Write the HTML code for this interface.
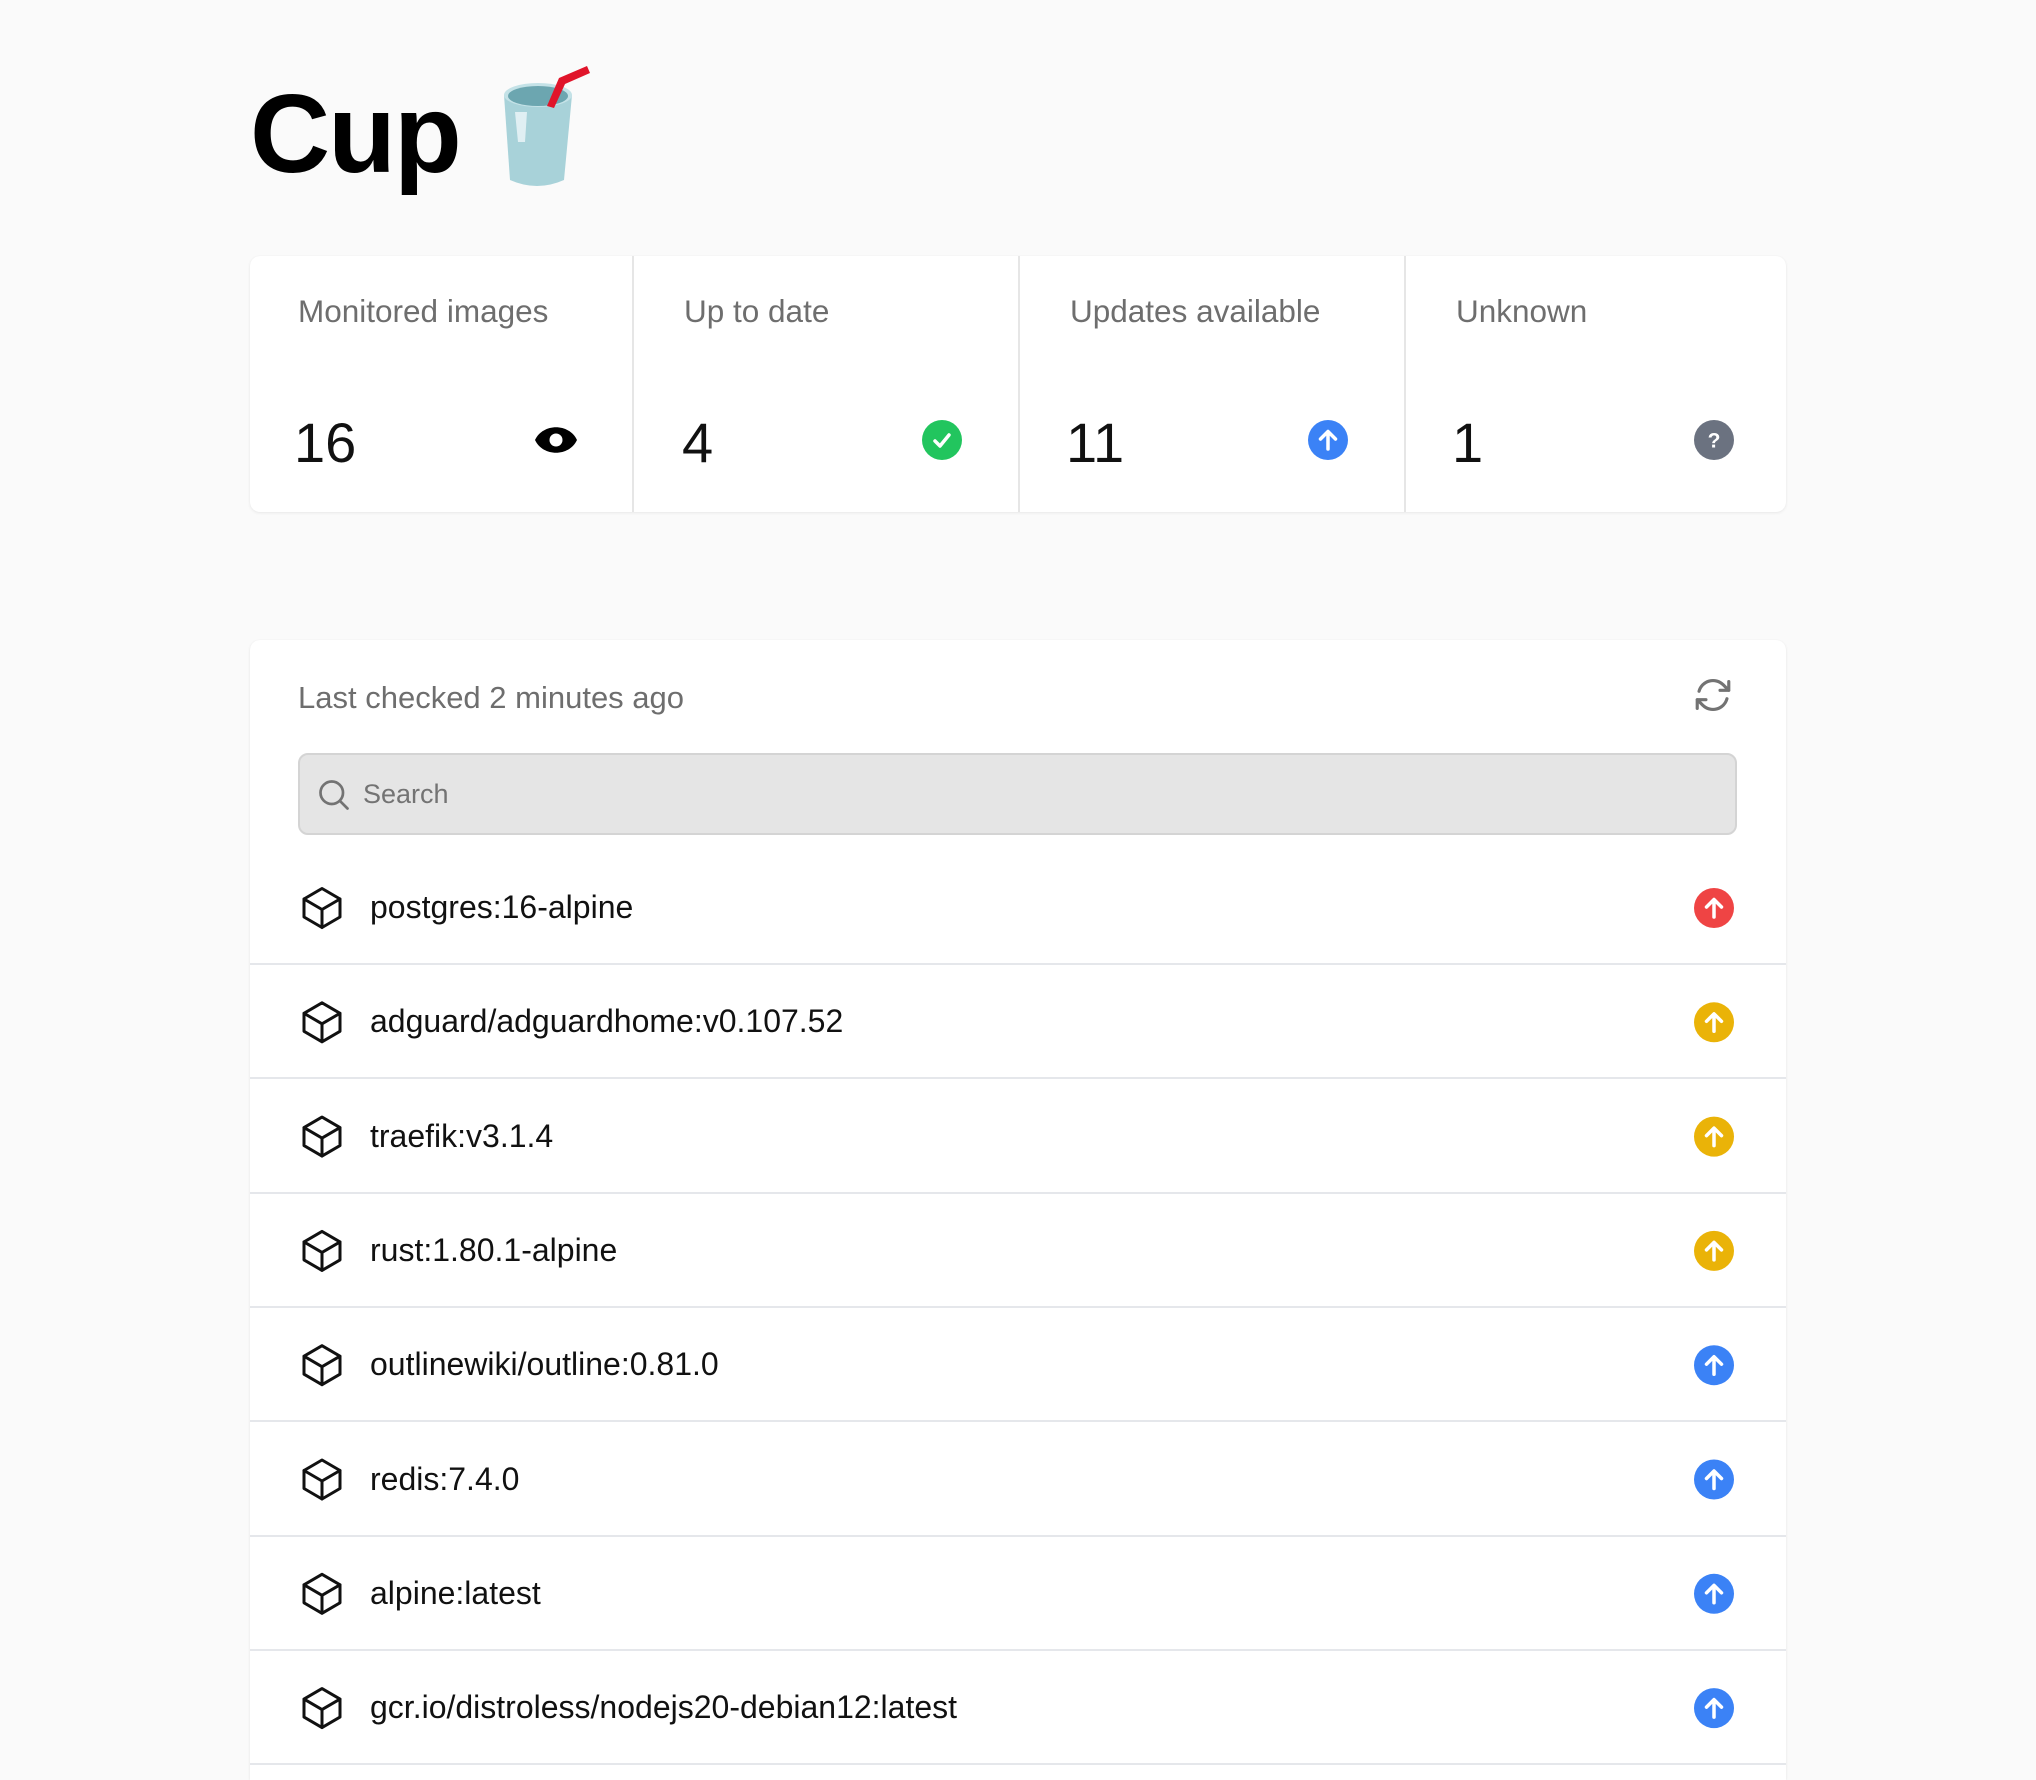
<!DOCTYPE html>
<html style="overflow:hidden;">
<head>
<meta charset="utf-8">
<style>
  html, body { margin:0; padding:0; width:2036px; height:1780px; overflow:hidden; }
  body { background:#fafafa; position:relative; font-family:"Liberation Sans", "DejaVu Sans", sans-serif; }
  .abs { position:absolute; line-height:1; white-space:nowrap; }
  .card { position:absolute; background:#fff; border-radius:10px; box-shadow:0 1px 3px rgba(0,0,0,0.07), 0 0 1px rgba(0,0,0,0.05); }
  .lbl { font-size:31.5px; color:#6e6e6e; }
  .num { font-size:56px; color:#111; }
  .vdiv { position:absolute; top:256px; width:2px; height:256px; background:#e6e6e6; }
  .sep { position:absolute; left:250px; width:1536px; height:2px; background:#e5e7eb; }
  .row { font-size:32px; color:#111; left:370px; }
</style>
</head>
<body>

<!-- Title -->
<div class="abs" style="left:250px; top:79px; font-size:111px; font-weight:bold; letter-spacing:-2px; color:#000;">Cup</div>
<svg style="position:absolute; left:495px; top:60px;" width="100" height="135" viewBox="495 60 100 135">
  <path d="M504,95 L510,180 Q537,192 564,180 L572,95 Z" fill="#a8d2d9"/>
  <ellipse cx="538" cy="95" rx="34" ry="12" fill="#c4e2e7"/>
  <ellipse cx="538" cy="96" rx="30" ry="10" fill="#6ca6b0"/>
  <path d="M515,112 L527,112 L525,142 L518,142 Z" fill="#e0eff3"/>
  <path d="M547,106 L559,78 L587,66 L590,73 L565,84 L554,108 Z" fill="#e0142a"/>
</svg>

<!-- Stats card -->
<div class="card" style="left:250px; top:256px; width:1536px; height:256px;"></div>
<div class="vdiv" style="left:632px;"></div>
<div class="vdiv" style="left:1018px;"></div>
<div class="vdiv" style="left:1404px;"></div>

<div class="abs lbl" style="left:298px; top:296px;">Monitored images</div>
<div class="abs lbl" style="left:684px; top:296px;">Up to date</div>
<div class="abs lbl" style="left:1070px; top:296px;">Updates available</div>
<div class="abs lbl" style="left:1456px; top:296px;">Unknown</div>

<div class="abs num" style="left:294px; top:415px;">16</div>
<div class="abs num" style="left:682px; top:415px;">4</div>
<div class="abs num" style="left:1066px; top:415px;">11</div>
<div class="abs num" style="left:1452px; top:415px;">1</div>

<!-- eye -->
<svg style="position:absolute; left:534px; top:422px;" width="44" height="36" viewBox="0 0 44 36">
  <path d="M1,18 C9,1 35,1 43,18 C35,35 9,35 1,18 Z" fill="#000"/>
  <circle cx="22" cy="18" r="6.5" fill="#fff"/>
</svg>
<!-- check -->
<svg style="position:absolute; left:922px; top:420px;" width="40" height="40" viewBox="0 0 40 40">
  <circle cx="20" cy="20" r="20" fill="#22c55e"/>
  <polyline points="13,21 18,26 27,15" fill="none" stroke="#fff" stroke-width="3.5" stroke-linecap="round" stroke-linejoin="round"/>
</svg>
<!-- up blue -->
<svg style="position:absolute; left:1308px; top:420px;" width="40" height="40" viewBox="0 0 40 40">
  <circle cx="20" cy="20" r="20" fill="#3b82f6"/>
  <path d="M20,29 L20,12 M12.5,19 L20,11.5 L27.5,19" fill="none" stroke="#fff" stroke-width="3.5" stroke-linecap="round" stroke-linejoin="round"/>
</svg>
<!-- question -->
<svg style="position:absolute; left:1694px; top:420px;" width="40" height="40" viewBox="0 0 40 40">
  <circle cx="20" cy="20" r="20" fill="#6b7280"/>
  <text x="20" y="27.5" text-anchor="middle" font-family="Liberation Sans, sans-serif" font-weight="bold" font-size="21" fill="#fff">?</text>
</svg>

<!-- Images card -->
<div class="card" style="left:250px; top:640px; width:1536px; height:1140px; border-bottom-left-radius:0; border-bottom-right-radius:0;"></div>
<div class="abs" style="left:298px; top:682px; font-size:31px; color:#6e6e6e;">Last checked 2 minutes ago</div>
<svg style="position:absolute; left:1692px; top:674px;" width="42" height="42" viewBox="0 0 24 24">
  <path d="M16.023 9.348h4.992v-.001M2.985 19.644v-4.992m0 0h4.992m-4.993 0 3.181 3.183a8.25 8.25 0 0 0 13.803-3.7M4.031 9.865a8.25 8.25 0 0 1 13.803-3.7l3.181 3.182m0-4.991v4.99" fill="none" stroke="#737373" stroke-width="1.8" stroke-linecap="round" stroke-linejoin="round"/>
</svg>

<!-- Search -->
<div style="position:absolute; left:298px; top:753px; width:1439px; height:82px; box-sizing:border-box; background:#e5e5e5; border:2px solid #d4d4d4; border-radius:10px;"></div>
<svg style="position:absolute; left:316px; top:777px;" width="36" height="36" viewBox="0 0 24 24">
  <path d="m21 21-5.197-5.197m0 0A7.5 7.5 0 1 0 5.196 5.196a7.5 7.5 0 0 0 10.607 10.607Z" fill="none" stroke="#737373" stroke-width="1.8" stroke-linecap="round" stroke-linejoin="round"/>
</svg>
<div class="abs" style="left:363px; top:781px; font-size:27px; color:#737373;">Search</div>

<!-- Rows -->
<div class="abs row" style="top:891px;">postgres:16-alpine</div>
<div class="abs row" style="top:1005.3px;">adguard/adguardhome:v0.107.52</div>
<div class="abs row" style="top:1119.6px;">traefik:v3.1.4</div>
<div class="abs row" style="top:1233.9px;">rust:1.80.1-alpine</div>
<div class="abs row" style="top:1348.2px;">outlinewiki/outline:0.81.0</div>
<div class="abs row" style="top:1462.5px;">redis:7.4.0</div>
<div class="abs row" style="top:1576.8px;">alpine:latest</div>
<div class="abs row" style="top:1691.1px;">gcr.io/distroless/nodejs20-debian12:latest</div>

<div class="sep" style="top:963px;"></div>
<div class="sep" style="top:1077.3px;"></div>
<div class="sep" style="top:1191.6px;"></div>
<div class="sep" style="top:1305.9px;"></div>
<div class="sep" style="top:1420.2px;"></div>
<div class="sep" style="top:1534.5px;"></div>
<div class="sep" style="top:1648.8px;"></div>
<div class="sep" style="top:1763.1px;"></div>

<svg style="position:absolute; left:0; top:0;" width="2036" height="1780" viewBox="0 0 2036 1780">
  <defs>
    <g id="cube">
      <path d="M0,0 m21 7.5-9-5.25L3 7.5m18 0-9 5.25m9-5.25v9l-9 5.25M3 7.5l9 5.25M3 7.5v9l9 5.25m0-9v9" fill="none" stroke="#111" stroke-width="1.5" stroke-linecap="round" stroke-linejoin="round"/>
    </g>
    <g id="up">
      <path d="M0,9 L0,-8 M-7.5,-1 L0,-8.5 L7.5,-1" fill="none" stroke="#fff" stroke-width="3.5" stroke-linecap="round" stroke-linejoin="round"/>
    </g>
  </defs>
  <g transform="translate(298,884) scale(2)"><use href="#cube"/></g>
  <g transform="translate(298,998.3) scale(2)"><use href="#cube"/></g>
  <g transform="translate(298,1112.6) scale(2)"><use href="#cube"/></g>
  <g transform="translate(298,1226.9) scale(2)"><use href="#cube"/></g>
  <g transform="translate(298,1341.2) scale(2)"><use href="#cube"/></g>
  <g transform="translate(298,1455.5) scale(2)"><use href="#cube"/></g>
  <g transform="translate(298,1569.8) scale(2)"><use href="#cube"/></g>
  <g transform="translate(298,1684.1) scale(2)"><use href="#cube"/></g>
  <circle cx="1714" cy="908" r="20" fill="#ef4444"/><use href="#up" transform="translate(1714,908)"/>
  <circle cx="1714" cy="1022.3" r="20" fill="#eab308"/><use href="#up" transform="translate(1714,1022.3)"/>
  <circle cx="1714" cy="1136.6" r="20" fill="#eab308"/><use href="#up" transform="translate(1714,1136.6)"/>
  <circle cx="1714" cy="1250.9" r="20" fill="#eab308"/><use href="#up" transform="translate(1714,1250.9)"/>
  <circle cx="1714" cy="1365.2" r="20" fill="#3b82f6"/><use href="#up" transform="translate(1714,1365.2)"/>
  <circle cx="1714" cy="1479.5" r="20" fill="#3b82f6"/><use href="#up" transform="translate(1714,1479.5)"/>
  <circle cx="1714" cy="1593.8" r="20" fill="#3b82f6"/><use href="#up" transform="translate(1714,1593.8)"/>
  <circle cx="1714" cy="1708.1" r="20" fill="#3b82f6"/><use href="#up" transform="translate(1714,1708.1)"/>
</svg>

</body>
</html>
